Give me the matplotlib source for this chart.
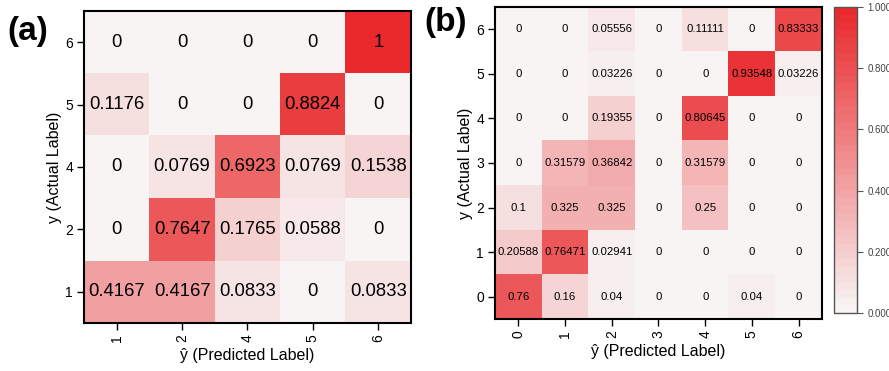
import numpy as np
import matplotlib.pyplot as plt
from matplotlib.colors import LinearSegmentedColormap, ListedColormap

plt.rcParams['font.family'] = ['Liberation Sans', 'DejaVu Sans']

# panel (a) data, rows listed bottom -> top
a_labels_x = ['1', '2', '4', '5', '6']
a_labels_y = ['1', '2', '4', '5', '6']
a_matrix = [
    [0.4167, 0.4167, 0.0833, 0, 0.0833],
    [0, 0.7647, 0.1765, 0.0588, 0],
    [0, 0.0769, 0.6923, 0.0769, 0.1538],
    [0.1176, 0, 0, 0.8824, 0],
    [0, 0, 0, 0, 1],
]

# panel (b) data, rows listed bottom -> top
b_labels_x = ['0', '1', '2', '3', '4', '5', '6']
b_labels_y = ['0', '1', '2', '3', '4', '5', '6']
b_matrix = [
    [0.76, 0.16, 0.04, 0, 0, 0.04, 0],
    [0.20588, 0.76471, 0.02941, 0, 0, 0, 0],
    [0.1, 0.325, 0.325, 0, 0.25, 0, 0],
    [0, 0.31579, 0.36842, 0, 0.31579, 0, 0],
    [0, 0, 0.19355, 0, 0.80645, 0, 0],
    [0, 0, 0.03226, 0, 0, 0.93548, 0.03226],
    [0, 0, 0.05556, 0, 0.11111, 0, 0.83333],
]
cbar_ticks = [0.0, 0.2, 0.4, 0.6, 0.8, 1.0]

base = LinearSegmentedColormap.from_list('wr', ['#f8f4f4', '#e9292c'])
cmap = ListedColormap(base(np.linspace(0, 1, 40)))

fig = plt.figure(figsize=(8.89, 3.71), dpi=100)


def draw(ax, mat, xl, yl, fs, digits):
    mat = np.array(mat, dtype=float)
    im = ax.imshow(mat, cmap=cmap, vmin=0, vmax=1, origin='lower', aspect='auto')
    for i in range(mat.shape[0]):
        for j in range(mat.shape[1]):
            ax.text(j, i, format(mat[i, j], '.%dg' % digits), ha='center', va='center',
                    fontsize=fs, color='black')
    ax.set_xticks(range(len(xl)))
    ax.set_xticklabels(xl, rotation=90)
    ax.set_yticks(range(len(yl)))
    ax.set_yticklabels(yl)
    ax.tick_params(length=5, width=1, labelsize=10, pad=3)
    for s in ax.spines.values():
        s.set_linewidth(1.5)
    ax.set_xlabel('ŷ (Predicted Label)', fontsize=11.5, labelpad=4)
    ax.set_ylabel('y (Actual Label)', fontsize=11.5, labelpad=2)
    return im


ax1 = fig.add_axes([0.0945, 0.1294, 0.3678, 0.841])
draw(ax1, a_matrix, a_labels_x, a_labels_y, 13.3, 4)

ax2 = fig.add_axes([0.5568, 0.1402, 0.3678, 0.841])
im = draw(ax2, b_matrix, b_labels_x, b_labels_y, 8.2, 5)

cax = fig.add_axes([0.938, 0.1563, 0.0259, 0.825])
cb = fig.colorbar(im, cax=cax, ticks=cbar_ticks, format='%.3f')
cb.outline.set_edgecolor('#555555')
cb.outline.set_linewidth(1)
cax.tick_params(labelsize=7, length=4, colors='#555555', labelcolor='#444444')

fig.text(0.008, 0.915, '(a)', fontsize=24, fontweight='bold', va='center')
fig.text(0.477, 0.94, '(b)', fontsize=24, fontweight='bold', va='center')

fig.savefig('out.png', dpi=100)
